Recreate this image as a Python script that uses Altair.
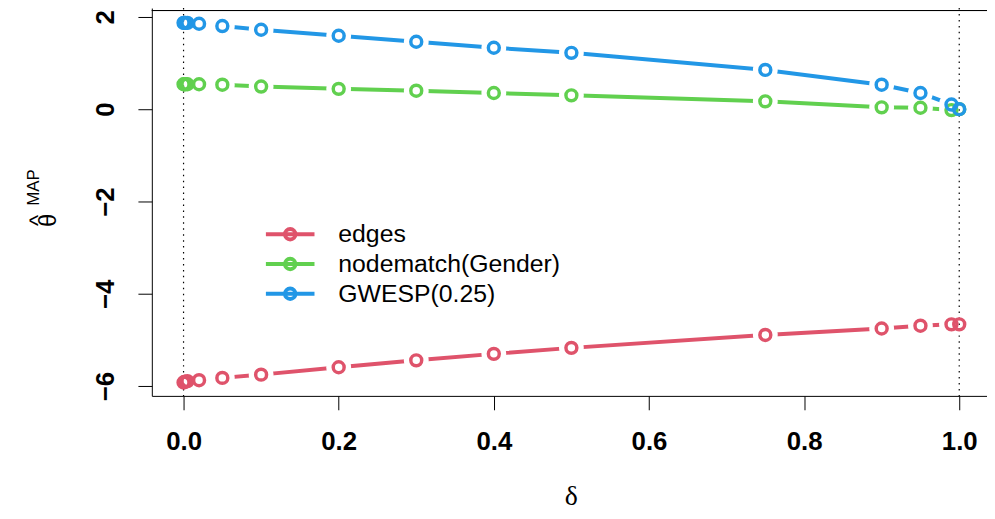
import altair as alt
import pandas as pd

delta = [0, 0.001, 0.0025, 0.005, 0.02, 0.05, 0.1, 0.2, 0.3, 0.4, 0.5, 0.75, 0.9, 0.95, 0.99, 1.0]
edges = [-5.92, -5.91, -5.90, -5.89, -5.87, -5.82, -5.75, -5.59, -5.44, -5.30, -5.17, -4.89, -4.75, -4.69, -4.66, -4.66]
nodematch = [0.54, 0.54, 0.54, 0.54, 0.54, 0.53, 0.49, 0.44, 0.40, 0.35, 0.30, 0.17, 0.04, 0.03, -0.02, 0.0]
gwesp = [1.87, 1.87, 1.87, 1.87, 1.85, 1.80, 1.72, 1.59, 1.46, 1.33, 1.22, 0.85, 0.53, 0.35, 0.10, 0.0]
series_names = ["edges", "nodematch(Gender)", "GWESP(0.25)"]
series_colors = ["#DF536B", "#61D04F", "#2297E6"]
x_ticks = [0.0, 0.2, 0.4, 0.6, 0.8, 1.0]
y_ticks = [-6, -4, -2, 0, 2]
vlines = [0.0, 1.0]

rows = []
for si, (name, vals) in enumerate(zip(series_names, [edges, nodematch, gwesp])):
    for i, (d, v) in enumerate(zip(delta, vals)):
        rows.append({"delta": d, "value": v, "series": name, "ord": si * 100 + i})
df = pd.DataFrame(rows)
vdf = pd.DataFrame({"x": vlines})

W, H = 842, 391
TOP = -2
xscale = alt.Scale(domain=[-0.0409, 1.0358], nice=False, zero=False)
yscale = alt.Scale(domain=[-6.21, 2.19], nice=False, zero=False)
cscale = alt.Scale(domain=series_names, range=series_colors)

legend_path = ("M-1,0L1,0M0.214,0A0.214,0.214,0,1,1,-0.214,0"
               "A0.214,0.214,0,1,1,0.214,0Z")

xaxis = alt.Axis(values=x_ticks, format=".1f", title=None, grid=False,
                 labelFont="Liberation Sans", labelFontWeight="bold", labelFontSize=26,
                 labelColor="black", labelBaseline="alphabetic", labelPadding=40,
                 tickSize=14, tickColor="black", domainColor="black", labelFlush=False)
yaxis = alt.Axis(values=y_ticks, format="d", title=None, grid=False,
                 labelFont="Liberation Sans", labelFontWeight="bold", labelFontSize=26,
                 labelColor="black", labelAngle=-90, labelAlign="center",
                 labelBaseline="alphabetic", labelPadding=25,
                 tickSize=14, tickColor="black", domainColor="black", labelFlush=False)

base = alt.Chart(df)

lines = base.mark_line(strokeWidth=4, strokeCap="round").encode(
    x=alt.X("delta:Q", scale=xscale, axis=xaxis),
    y=alt.Y("value:Q", scale=yscale, axis=yaxis),
    color=alt.Color("series:N", scale=cscale, sort=series_names,
                    legend=alt.Legend(orient="none", legendX=113, legendY=213, title=None,
                                      symbolType=legend_path, symbolSize=2401,
                                      symbolStrokeWidth=4, labelFont="Liberation Sans",
                                      labelFontSize=25, labelColor="black", labelOffset=22,
                                      labelLimit=0, rowPadding=0, clipHeight=30, padding=0)),
    detail="series:N",
    order="ord:Q",
)

halos = base.mark_point(filled=True, shape="circle", size=625, color="white", opacity=1).encode(
    x=alt.X("delta:Q", scale=xscale),
    y=alt.Y("value:Q", scale=yscale),
    order="ord:Q",
)

rules = alt.Chart(vdf).mark_rule(color="black", strokeWidth=1.2, strokeDash=[1.5, 4.5]).encode(
    x=alt.X("x:Q", scale=xscale)
)

points = base.mark_point(filled=False, shape="circle", size=121, strokeWidth=3.5, opacity=1).encode(
    x=alt.X("delta:Q", scale=xscale),
    y=alt.Y("value:Q", scale=yscale),
    color=alt.Color("series:N", scale=cscale, legend=None),
    order="ord:Q",
)

topline = alt.Chart(vdf).mark_rule(color="black", strokeWidth=1).encode(
    x=alt.value(0), x2=alt.value(W), y=alt.value(2.5)
)

xlab = alt.Chart(vdf.head(1)).mark_text(text="δ", font="Liberation Serif", fontSize=28,
                                         baseline="alphabetic", align="center", color="black").encode(
    x=alt.value(W / 2 + 2), y=alt.value(501)
)
theta = alt.Chart(vdf.head(1)).mark_text(text="θ", font="Liberation Sans", fontSize=24, angle=270,
                                          align="center", baseline="middle", color="black").encode(
    x=alt.value(-104), y=alt.value(214)
)
hat = alt.Chart(vdf.head(1)).mark_text(text="^", font="Liberation Sans", fontSize=24, angle=270,
                                        align="center", baseline="middle", color="black").encode(
    x=alt.value(-114), y=alt.value(214)
)
mapt = alt.Chart(vdf.head(1)).mark_text(text="MAP", font="Liberation Sans", fontSize=17, angle=270,
                                         align="center", baseline="middle", color="black").encode(
    x=alt.value(-119), y=alt.value(181)
)

chart = alt.layer(lines, halos, rules, points, topline, xlab, theta, hat, mapt).properties(
    width=W, height=H,
    padding={"left": 145, "top": TOP, "right": 0, "bottom": 114},
    autosize=alt.AutoSizeParams(type="none"),
).configure_view(stroke=None).configure_axis(domainWidth=1, tickWidth=1)

chart.save("out.html", embed_options={"renderer": "svg", "actions": False})
